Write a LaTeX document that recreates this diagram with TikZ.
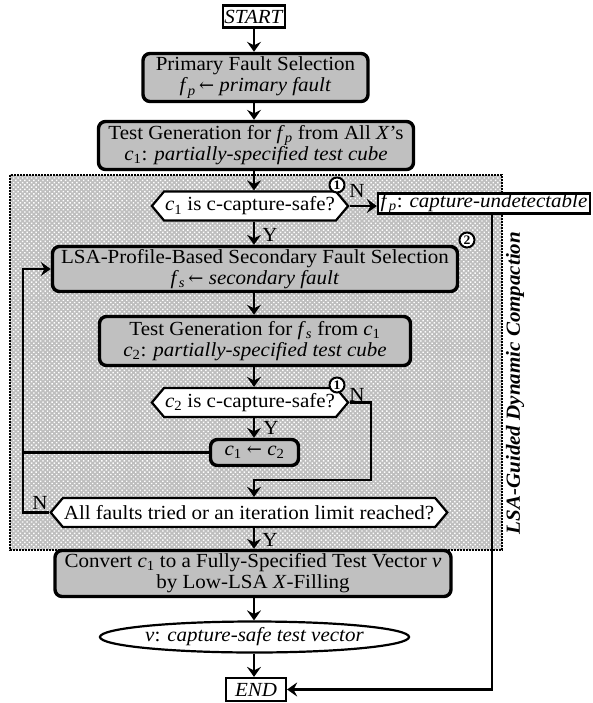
\documentclass[tikz,border=0pt]{standalone}
\usepackage{fontspec}
\setmainfont{Liberation Serif}[FakeStretch=1.05]
\newfontfamily\arrowfont{DejaVu Serif}
\usetikzlibrary{shapes.symbols,shapes.geometric,arrows.meta,patterns.meta}
\definecolor{boxgray}{HTML}{C0C0C0}
\definecolor{bggray}{HTML}{BEBEBE}
\newcommand{\fsub}[1]{\textit{f}\textsubscript{\textit{#1}}}
\newcommand{\csub}[1]{\textit{c}\textsubscript{#1}}
\newcommand{\larr}{{\arrowfont\fontsize{18}{18}\selectfont ←}}
\tikzset{
  graybox/.style={draw, line width=3.4pt, rounded corners=7pt, fill=boxgray, align=center, inner sep=0pt},
  whitebox/.style={draw, line width=2.2pt, fill=white, inner sep=0pt, align=center},
  hexa/.style={draw, line width=2.2pt, fill=white, signal, signal to=west and east, signal pointer angle=100, inner xsep=1pt, inner ysep=0pt, minimum height=29pt},
  arr/.style={line width=2.5pt, -{Stealth[length=10pt,width=14pt,inset=3.5pt]}},
  ln/.style={line width=2.2pt},
  num/.style={circle, draw, line width=2pt, fill=white, inner sep=0pt, minimum size=15pt, font=\fontsize{13}{13}\selectfont\bfseries},
  lab/.style={inner sep=0pt},
}
\begin{document}
\begin{tikzpicture}[x=1pt, y=-1pt, font=\fontsize{20}{21}\selectfont]
\useasboundingbox (0,0) rectangle (593,703);
% background region
\fill[bggray] (10,175) rectangle (502,550);
\fill[pattern={Dots[distance=3.2pt, radius=1pt, angle=45]}, pattern color=white] (10,175) rectangle (502,550);
\draw[line width=2.2pt, dash pattern=on 1.6pt off 1.4pt] (10,175) rectangle (502,550);
\coordinate (sp) at (254,0);
% nodes
\node[whitebox, minimum width=62pt, minimum height=22pt] (start) at (254,16.5) {\textit{START}};
\node[graybox, minimum width=225pt, minimum height=48pt] (prim) at (255.5,77.5) {Primary Fault Selection\\\fsub{p}\,\larr\ \textit{primary fault}};
\node[graybox, minimum width=315pt, minimum height=48pt] (tg1) at (256,145.5) {Test Generation for \fsub{p} from All \textit{X}’s\\\csub{1}: \textit{partially-specified test cube}};
\node[hexa] (c1hex) at (250,206) {\csub{1} is c-capture-safe?};
\node[whitebox, minimum width=212pt, minimum height=19pt] (fp) at (484,203.5) {\fsub{p}: \textit{capture-undetectable}};
\node[graybox, minimum width=405pt, minimum height=45pt] (lsa) at (255,269) {LSA-Profile-Based Secondary Fault Selection\\\fsub{s}\,\larr\ \textit{secondary fault}};
\node[graybox, minimum width=311pt, minimum height=49pt] (tg2) at (255,341) {Test Generation for \fsub{s} from \csub{1}\\\csub{2}: \textit{partially-specified test cube}};
\node[hexa] (c2hex) at (250,402.5) {\csub{2} is c-capture-safe?};
\node[graybox, minimum width=88pt, minimum height=26pt] (c1c2) at (254.5,452.5) {\csub{1} \larr\ \csub{2}};
\node[hexa] (allhex) at (249,512.5) {All faults tried or an iteration limit reached?};
\node[graybox, minimum width=396pt, minimum height=46pt] (conv) at (253,573.5) {Convert \csub{1} to a Fully-Specified Test Vector \textit{v}\\by Low-LSA \textit{X}-Filling};
\node[ellipse, draw, line width=2.2pt, fill=white, inner sep=0pt, minimum width=257pt, minimum height=31pt] (ell) at (254.5,637) {\textit{v}: \textit{capture-safe test vector}};
\node[whitebox, minimum width=60pt, minimum height=23pt] (end) at (256,689.5) {\textit{END}};
\node[num] (n1) at (337,185) {1};
\node[num] (n2) at (467,240) {2};
\node[num] (n3) at (337,385) {1};
\node[rotate=90, font=\fontsize{20}{21}\selectfont\bfseries\itshape] (side) at (515,383) {LSA-Guided Dynamic Compaction};
% labels
\node[lab] (y1) at (270,235) {Y};
\node[lab] (y2) at (271,428) {Y};
\node[lab] (y3) at (270,540) {Y};
\node[lab] (nl1) at (357,191) {N};
\node[lab] (nl2) at (357,395) {N};
\node[lab] (nl3) at (40,503) {N};
% coordinates
\coordinate (nc) at (371,480);
\coordinate (rt) at (492,689.5);
\coordinate (lp) at (23,268);
% connectors
\draw[arr] (start.south -| sp) -- (prim.north -| sp);
\draw[arr] (prim.south -| sp) -- (tg1.north -| sp);
\draw[arr] (tg1.south -| sp) -- (c1hex.north -| sp);
\draw[arr] (c1hex.south -| sp) -- (lsa.north -| sp);
\draw[arr] (c1hex.east) -- (c1hex.east -| fp.west);
\draw[arr] (lsa.south -| sp) -- (tg2.north -| sp);
\draw[arr] (tg2.south -| sp) -- (c2hex.north -| sp);
\draw[arr] (c2hex.south -| sp) -- (c1c2.north -| sp);
\draw[arr] (c2hex.east) -| (nc) -| (allhex.north -| sp);
\draw[ln] (c1c2.west) -- (c1c2.west -| lp);
\draw[arr] (allhex.west) -| (lsa.west -| lp) -- (lsa.west);
\draw[arr] (allhex.south -| sp) -- (conv.north -| sp);
\draw[arr] (conv.south -| sp) -- (ell.north -| sp);
\draw[arr] (ell.south -| sp) -- (end.north -| sp);
\draw[arr] (fp.south -| rt) -- (rt) -- (end.east);
\end{tikzpicture}
\end{document}
